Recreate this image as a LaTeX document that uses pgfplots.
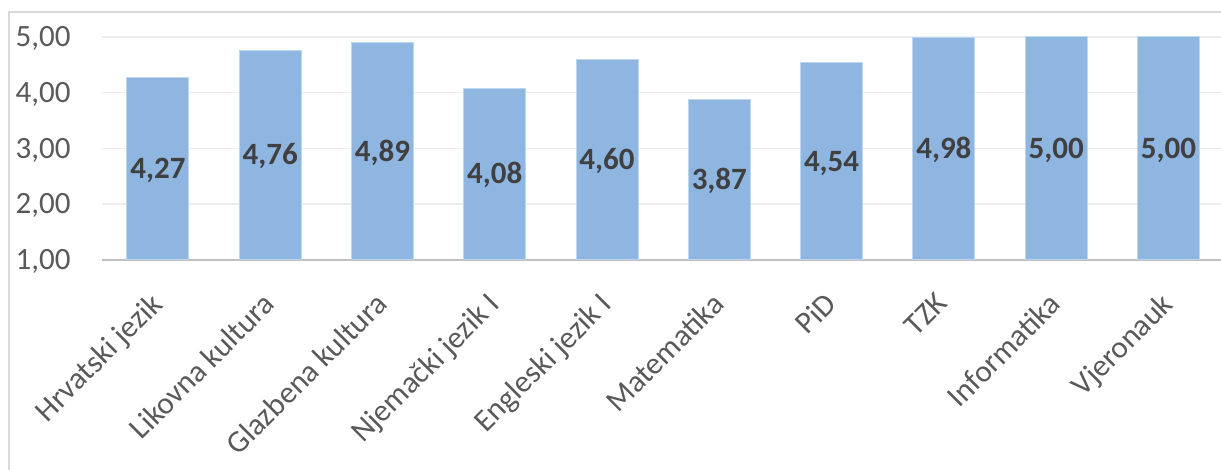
\documentclass[border=0pt]{standalone}
\usepackage{fontspec}
\setmainfont{Carlito}
\usepackage{pgfplots}
\pgfplotsset{compat=1.18}
\definecolor{barfill}{RGB}{142,182,225}
\definecolor{baredge}{RGB}{189,215,238}
\definecolor{gridc}{RGB}{236,236,236}
\definecolor{axisc}{RGB}{191,191,191}
\definecolor{framec}{RGB}{217,217,217}
\definecolor{tickc}{RGB}{89,89,89}
\definecolor{labc}{RGB}{64,64,64}
\begin{document}
\begin{tikzpicture}[x=1pt,y=1pt]
\useasboundingbox (0,0) rectangle (1221,470);
\draw[framec, line width=1.5pt] (9,-20) -- (9,458) -- (1240,458);
\begin{axis}[
  at={(101.8pt,210pt)}, anchor=south west,
  scale only axis, width=1122.8pt, height=223.2pt,
  xmin=-0.5, xmax=9.5, ymin=1, ymax=5,
  ytick={1,2,3,4,5},
  xtick={0,...,9},
  xticklabels={Hrvatski jezik,Likovna kultura,Glazbena kultura,Njemački jezik I,Engleski jezik I,Matematika,PiD,TZK,Informatika,Vjeronauk},
  ymajorgrids, grid style={gridc, line width=1.5pt},
  axis x line*=bottom, axis y line*=left,
  y axis line style={draw=none},
  x axis line style={axisc, line width=2.5pt, -},
  major tick length=0pt,
  /pgf/number format/.cd, fixed, fixed zerofill, precision=2, use comma, assume math mode=true,
  /pgfplots/.cd,
  tick label style={font=\fontsize{31}{37}\selectfont, text=tickc},
  yticklabel style={anchor=base east, inner sep=0pt, xshift=-31pt, yshift=-9.8pt},
  xticklabel style={rotate=45, anchor=north east, inner sep=0pt, xshift=-28pt, yshift=-15.4pt},
  clip=false,
]
\addplot[ybar, bar width=62pt, fill=barfill, draw=baredge, line width=1pt, bar shift=0pt,
  visualization depends on={rawy \as \ry},
  nodes near coords={\pgfmathprintnumber[fixed,fixed zerofill,precision=2,use comma,assume math mode=true]{\pgfplotspointmeta}},
  every node near coord/.append style={anchor=base, inner sep=0pt, font=\fontsize{31}{37}\selectfont\bfseries, text=labc, yshift=-(\ry-1)*27.9pt-9.8pt},
] coordinates {(0,4.27) (1,4.76) (2,4.89) (3,4.08) (4,4.60) (5,3.87) (6,4.54) (7,4.98) (8,5.00) (9,5.00)};
\end{axis}
\end{tikzpicture}
\end{document}
